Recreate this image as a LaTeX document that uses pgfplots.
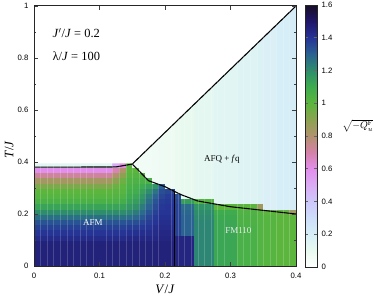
\documentclass[border=0pt]{standalone}
\usepackage{fontspec}
\setmainfont{Liberation Serif}
\newfontfamily\sansf{Liberation Sans}
\usepackage{pgfplots}
\pgfplotsset{compat=1.18}
\pgfplotsset{colormap={cubeh}{rgb255=(255,255,255) rgb255=(232,250,240) rgb255=(214,238,247) rgb255=(205,222,250) rgb255=(205,200,250) rgb255=(218,172,245) rgb255=(226,142,236) rgb255=(212,130,168) rgb255=(178,146,110) rgb255=(140,162,80) rgb255=(92,182,62) rgb255=(62,172,78) rgb255=(46,142,108) rgb255=(42,98,146) rgb255=(38,52,150) rgb255=(32,22,106) rgb255=(24,14,38)}}
\begin{document}
\begin{tikzpicture}
\useasboundingbox (-34bp,-32bp) rectangle (340bp,266bp);
\begin{axis}[
  scale only axis, width=262bp, height=260bp,
  xmin=0, xmax=0.4, ymin=0, ymax=1,
  xtick={0,0.1,0.2,0.3,0.4}, ytick={0,0.2,0.4,0.6,0.8,1}, minor y tick num=1,
  tick align=inside,
  major tick length=4bp, minor tick length=2bp,
  tick style={black!75, line width=0.6bp},
  axis line style={black!85, line width=1bp},
  ticklabel style={font=\sansf\fontsize{7.8}{9}\selectfont},
  /pgf/number format/assume math mode=true,
  xticklabel style={yshift=-4bp},
  yticklabel style={xshift=-2bp},
  xlabel={\textit{V}/\textit{J}}, ylabel={\textit{T}/\textit{J}},
  label style={font=\fontsize{13}{15}\selectfont},
  xlabel style={at={(axis description cs:0.5,-0.09)}, anchor=center},
  ylabel style={at={(axis description cs:-0.095,0.446)}, anchor=center},
  colormap name=cubeh, point meta min=0, point meta max=1.6,
  colorbar,
  colorbar style={
    at={(parent axis.north east)}, anchor=north west, xshift=0.5bp, yshift=1bp,
    scale only axis, width=12bp, height=262bp,
    ytick={0,0.2,0.4,0.6,0.8,1,1.2,1.4,1.6},
    ytick pos=both, yticklabel pos=right,
    major tick length=3bp,
    tick style={black!60, line width=0.6bp},
    axis line style={black!85, line width=0.8bp},
    yticklabel style={font=\sansf\fontsize{7.8}{9}\selectfont, xshift=1bp},
    /pgf/number format/assume math mode=true,
    ylabel={$\sqrt{-Q_u^{\mathrm{F}}}$},
    ylabel style={rotate=-90, at={(axis description cs:4.4,0.54)}, anchor=center},
  },
  axis on top,
  extra x ticks={0.01,0.02,0.03,0.04,0.05,0.06,0.07,0.08,0.09,0.11,0.12,0.13,0.14,0.15,0.16,0.17,0.18,0.19,0.21,0.22,0.23,0.24,0.25,0.26,0.27,0.28,0.29,0.31,0.32,0.33,0.34,0.35,0.36,0.37,0.38,0.39},
  extra x tick labels={},
  extra x tick style={grid=major, major tick length=0pt, major grid style={white, opacity=0.18, line width=0.4bp}},
]
\addplot[surf, shader=flat corner, mesh/cols=20, point meta=explicit] coordinates {
(0,0)[1.46] (0.12,0)[1.46] (0.13,0)[1.46] (0.14,0)[1.46] (0.15,0)[1.46] (0.16,0)[1.46] (0.17,0)[1.46] (0.18,0)[1.46] (0.19,0)[1.46] (0.2,0)[1.46] (0.215,0)[1.45] (0.225,0)[1.45] (0.245,0)[1.22] (0.275,0)[1.12] (0.31,0)[1.06] (0.34,0)[1.03] (0.35,0)[1.02] (0.37,0)[1.00] (0.39,0)[1.00] (0.4,0)[1.00]
(0,0.1)[1.43] (0.12,0.1)[1.43] (0.13,0.1)[1.43] (0.14,0.1)[1.44] (0.15,0.1)[1.44] (0.16,0.1)[1.44] (0.17,0.1)[1.44] (0.18,0.1)[1.44] (0.19,0.1)[1.45] (0.2,0.1)[1.45] (0.215,0.1)[1.45] (0.225,0.1)[1.45] (0.245,0.1)[1.22] (0.275,0.1)[1.12] (0.31,0.1)[1.06] (0.34,0.1)[1.03] (0.35,0.1)[1.02] (0.37,0.1)[1.00] (0.39,0.1)[1.00] (0.4,0.1)[1.00]
(0,0.12)[1.40] (0.12,0.12)[1.40] (0.13,0.12)[1.40] (0.14,0.12)[1.41] (0.15,0.12)[1.41] (0.16,0.12)[1.42] (0.17,0.12)[1.42] (0.18,0.12)[1.43] (0.19,0.12)[1.44] (0.2,0.12)[1.44] (0.215,0.12)[1.37] (0.225,0.12)[1.30] (0.245,0.12)[1.22] (0.275,0.12)[1.12] (0.31,0.12)[1.06] (0.34,0.12)[1.03] (0.35,0.12)[1.02] (0.37,0.12)[1.00] (0.39,0.12)[1.00] (0.4,0.12)[1.00]
(0,0.14)[1.37] (0.12,0.14)[1.37] (0.13,0.14)[1.37] (0.14,0.14)[1.38] (0.15,0.14)[1.38] (0.16,0.14)[1.39] (0.17,0.14)[1.40] (0.18,0.14)[1.42] (0.19,0.14)[1.43] (0.2,0.14)[1.43] (0.215,0.14)[1.37] (0.225,0.14)[1.30] (0.245,0.14)[1.22] (0.275,0.14)[1.12] (0.31,0.14)[1.06] (0.34,0.14)[1.03] (0.35,0.14)[1.02] (0.37,0.14)[1.00] (0.39,0.14)[1.00] (0.4,0.14)[1.00]
(0,0.16)[1.33] (0.12,0.16)[1.33] (0.13,0.16)[1.33] (0.14,0.16)[1.34] (0.15,0.16)[1.34] (0.16,0.16)[1.36] (0.17,0.16)[1.38] (0.18,0.16)[1.40] (0.19,0.16)[1.42] (0.2,0.16)[1.42] (0.215,0.16)[1.37] (0.225,0.16)[1.30] (0.245,0.16)[1.22] (0.275,0.16)[1.12] (0.31,0.16)[1.05] (0.34,0.16)[1.03] (0.35,0.16)[1.02] (0.37,0.16)[1.00] (0.39,0.16)[1.00] (0.4,0.16)[1.00]
(0,0.18)[1.27] (0.12,0.18)[1.27] (0.13,0.18)[1.27] (0.14,0.18)[1.28] (0.15,0.18)[1.29] (0.16,0.18)[1.32] (0.17,0.18)[1.36] (0.18,0.18)[1.39] (0.19,0.18)[1.41] (0.2,0.18)[1.41] (0.215,0.18)[1.37] (0.225,0.18)[1.30] (0.245,0.18)[1.21] (0.275,0.18)[1.11] (0.31,0.18)[1.05] (0.34,0.18)[1.03] (0.35,0.18)[1.02] (0.37,0.18)[1.00] (0.39,0.18)[1.00] (0.4,0.18)[1.00]
(0,0.2)[1.20] (0.12,0.2)[1.20] (0.13,0.2)[1.20] (0.14,0.2)[1.22] (0.15,0.2)[1.24] (0.16,0.2)[1.28] (0.17,0.2)[1.33] (0.18,0.2)[1.37] (0.19,0.2)[1.40] (0.2,0.2)[1.40] (0.215,0.2)[1.37] (0.225,0.2)[1.29] (0.245,0.2)[1.20] (0.275,0.2)[1.10] (0.31,0.2)[1.04] (0.34,0.2)[1.02] (0.35,0.2)[1.00] (0.37,0.2)[0.98] (0.39,0.2)[0.85] (0.4,0.2)[0.85]
(0,0.22)[1.13] (0.12,0.22)[1.13] (0.13,0.22)[1.14] (0.14,0.22)[1.17] (0.15,0.22)[1.19] (0.16,0.22)[1.24] (0.17,0.22)[1.30] (0.18,0.22)[1.35] (0.19,0.22)[1.39] (0.2,0.22)[1.40] (0.215,0.22)[1.37] (0.225,0.22)[1.28] (0.245,0.22)[1.18] (0.275,0.22)[1.00] (0.31,0.22)[1.00] (0.34,0.22)[0.85] (0.35,0.22)[0.18] (0.37,0.22)[0.20] (0.39,0.22)[0.21] (0.4,0.22)[0.21]
(0,0.24)[1.06] (0.12,0.24)[1.06] (0.13,0.24)[1.08] (0.14,0.24)[1.13] (0.15,0.24)[1.15] (0.16,0.24)[1.20] (0.17,0.24)[1.27] (0.18,0.24)[1.33] (0.19,0.24)[1.38] (0.2,0.24)[1.39] (0.215,0.24)[1.36] (0.225,0.24)[1.15] (0.245,0.24)[1.03] (0.275,0.24)[0.14] (0.31,0.24)[0.16] (0.34,0.24)[0.17] (0.35,0.24)[0.18] (0.37,0.24)[0.20] (0.39,0.24)[0.21] (0.4,0.24)[0.21]
(0,0.26)[1.02] (0.12,0.26)[1.03] (0.13,0.26)[1.04] (0.14,0.26)[1.10] (0.15,0.26)[1.12] (0.16,0.26)[1.17] (0.17,0.26)[1.24] (0.18,0.26)[1.30] (0.19,0.26)[1.36] (0.2,0.26)[1.38] (0.215,0.26)[1.34] (0.225,0.26)[0.10] (0.245,0.26)[0.12] (0.275,0.26)[0.14] (0.31,0.26)[0.16] (0.34,0.26)[0.17] (0.35,0.26)[0.18] (0.37,0.26)[0.20] (0.39,0.26)[0.21] (0.4,0.26)[0.21]
(0,0.28)[1.00] (0.12,0.28)[1.01] (0.13,0.28)[1.02] (0.14,0.28)[1.08] (0.15,0.28)[1.09] (0.16,0.28)[1.14] (0.17,0.28)[1.20] (0.18,0.28)[1.26] (0.19,0.28)[1.34] (0.2,0.28)[1.36] (0.215,0.28)[0.09] (0.225,0.28)[0.10] (0.245,0.28)[0.12] (0.275,0.28)[0.14] (0.31,0.28)[0.16] (0.34,0.28)[0.17] (0.35,0.28)[0.18] (0.37,0.28)[0.20] (0.39,0.28)[0.21] (0.4,0.28)[0.21]
(0,0.3)[0.93] (0.12,0.3)[0.97] (0.13,0.3)[1.00] (0.14,0.3)[1.06] (0.15,0.3)[1.07] (0.16,0.3)[1.10] (0.17,0.3)[1.14] (0.18,0.3)[1.18] (0.19,0.3)[1.30] (0.2,0.3)[0.08] (0.215,0.3)[0.09] (0.225,0.3)[0.10] (0.245,0.3)[0.12] (0.275,0.3)[0.14] (0.31,0.3)[0.16] (0.34,0.3)[0.17] (0.35,0.3)[0.18] (0.37,0.3)[0.20] (0.39,0.3)[0.21] (0.4,0.3)[0.21]
(0,0.32)[0.84] (0.12,0.32)[0.90] (0.13,0.32)[0.96] (0.14,0.32)[1.04] (0.15,0.32)[1.05] (0.16,0.32)[1.06] (0.17,0.32)[1.06] (0.18,0.32)[0.07] (0.19,0.32)[0.075] (0.2,0.32)[0.08] (0.215,0.32)[0.09] (0.225,0.32)[0.10] (0.245,0.32)[0.12] (0.275,0.32)[0.14] (0.31,0.32)[0.16] (0.34,0.32)[0.17] (0.35,0.32)[0.18] (0.37,0.32)[0.20] (0.39,0.32)[0.21] (0.4,0.32)[0.21]
(0,0.34)[0.72] (0.12,0.34)[0.80] (0.13,0.34)[0.90] (0.14,0.34)[1.02] (0.15,0.34)[1.03] (0.16,0.34)[1.02] (0.17,0.34)[0.065] (0.18,0.34)[0.07] (0.19,0.34)[0.075] (0.2,0.34)[0.08] (0.215,0.34)[0.09] (0.225,0.34)[0.10] (0.245,0.34)[0.12] (0.275,0.34)[0.14] (0.31,0.34)[0.16] (0.34,0.34)[0.17] (0.35,0.34)[0.18] (0.37,0.34)[0.20] (0.39,0.34)[0.21] (0.4,0.34)[0.21]
(0,0.36)[0.60] (0.12,0.36)[0.68] (0.13,0.36)[0.80] (0.14,0.36)[1.00] (0.15,0.36)[1.00] (0.16,0.36)[0.06] (0.17,0.36)[0.065] (0.18,0.36)[0.07] (0.19,0.36)[0.075] (0.2,0.36)[0.08] (0.215,0.36)[0.09] (0.225,0.36)[0.10] (0.245,0.36)[0.12] (0.275,0.36)[0.14] (0.31,0.36)[0.16] (0.34,0.36)[0.17] (0.35,0.36)[0.18] (0.37,0.36)[0.20] (0.39,0.36)[0.21] (0.4,0.36)[0.21]
(0,0.38)[0.14] (0.12,0.38)[0.50] (0.13,0.38)[0.62] (0.14,0.38)[1.00] (0.15,0.38)[0.055] (0.16,0.38)[0.06] (0.17,0.38)[0.065] (0.18,0.38)[0.07] (0.19,0.38)[0.075] (0.2,0.38)[0.08] (0.215,0.38)[0.09] (0.225,0.38)[0.10] (0.245,0.38)[0.12] (0.275,0.38)[0.14] (0.31,0.38)[0.16] (0.34,0.38)[0.17] (0.35,0.38)[0.18] (0.37,0.38)[0.20] (0.39,0.38)[0.21] (0.4,0.38)[0.21]
(0,0.4)[0] (0.12,0.4)[0] (0.13,0.4)[0] (0.14,0.4)[0.05] (0.15,0.4)[0.055] (0.16,0.4)[0.06] (0.17,0.4)[0.065] (0.18,0.4)[0.07] (0.19,0.4)[0.075] (0.2,0.4)[0.08] (0.215,0.4)[0.09] (0.225,0.4)[0.10] (0.245,0.4)[0.12] (0.275,0.4)[0.14] (0.31,0.4)[0.16] (0.34,0.4)[0.17] (0.35,0.4)[0.18] (0.37,0.4)[0.20] (0.39,0.4)[0.21] (0.4,0.4)[0.21]
(0,1)[0] (0.12,1)[0] (0.13,1)[0] (0.14,1)[0.05] (0.15,1)[0.055] (0.16,1)[0.06] (0.17,1)[0.065] (0.18,1)[0.07] (0.19,1)[0.075] (0.2,1)[0.08] (0.215,1)[0.09] (0.225,1)[0.10] (0.245,1)[0.12] (0.275,1)[0.14] (0.31,1)[0.16] (0.34,1)[0.17] (0.35,1)[0.18] (0.37,1)[0.20] (0.39,1)[0.21] (0.4,1)[0.21]
};
\addplot[fill=white, draw=none, forget plot] coordinates {(0,0.395) (0.1512,0.395) (0.4,1) (0,1) (0,0.395)};
\addplot[black, line width=1.1bp, forget plot] coordinates {(0,0) (0,0.38) (0.125,0.381) (0.15,0.392) (0.4,1)};
\addplot[black, line width=1.1bp, forget plot] coordinates {(0.15,0.392) (0.175,0.328) (0.2,0.305) (0.215,0.286) (0.225,0.274) (0.25,0.25) (0.3,0.228) (0.35,0.214) (0.4,0.2)};
\addplot[black, line width=1.1bp, forget plot] coordinates {(0.215,0) (0.215,0.286)};
\node[anchor=west, font=\fontsize{12.5}{14}\selectfont] at (axis cs:0.023,0.896) {\textit{J}$'$/\textit{J} = 0.2};
\node[anchor=west, font=\fontsize{12.5}{14}\selectfont] at (axis cs:0.023,0.808) {λ/\textit{J} = 100};
\node[font=\fontsize{9}{10}\selectfont] at (axis cs:0.287,0.41) {AFQ + \textit{f}q};
\node[font=\fontsize{9}{10}\selectfont, text=white] at (axis cs:0.09,0.169) {AFM};
\node[font=\fontsize{9}{10}\selectfont, text=white!92!black] at (axis cs:0.312,0.137) {FM110};
\end{axis}
\end{tikzpicture}
\end{document}
